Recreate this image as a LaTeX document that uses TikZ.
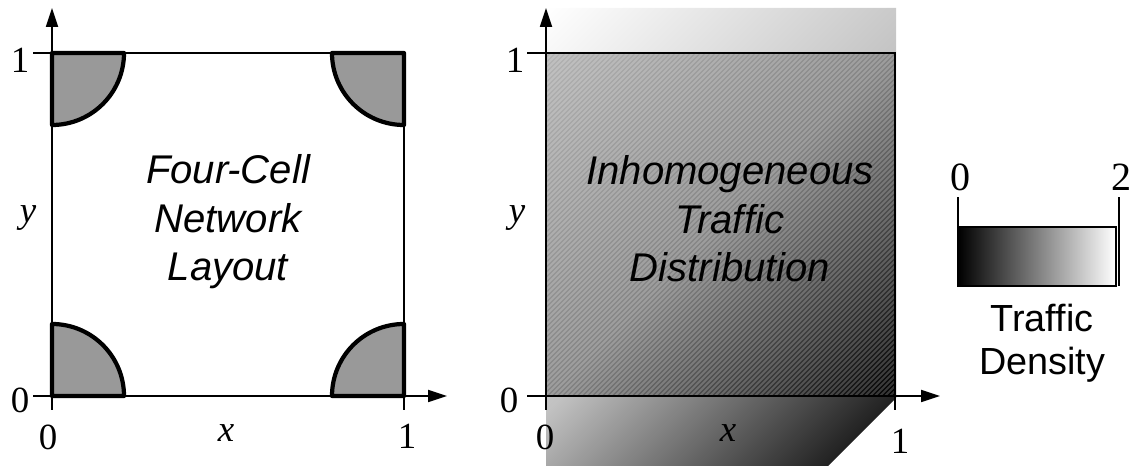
\documentclass[tikz,border=0pt]{standalone}
\usepackage{fontspec}
\setmainfont{Liberation Serif}
\setsansfont{Liberation Sans}
\usetikzlibrary{arrows.meta}
\definecolor{cellgray}{HTML}{999999}

\begin{document}
\begin{tikzpicture}[x=0.02cm, y=0.02cm,
  axis/.style={line width=1.1pt, -{Triangle[width=6.8pt,length=10.8pt]}},
  frame/.style={line width=1.1pt},
  cell/.style={fill=cellgray, draw=black, line width=2.4pt, line join=round},
  hatch/.style={white, opacity=0.2, line width=1.1pt},
  num/.style={font=\fontsize{21}{21}\selectfont},
  var/.style={font=\fontsize{21}{21}\selectfont\itshape},
  title/.style={align=center, font=\sffamily\itshape\fontsize{22.8}{27.6}\selectfont}]
\useasboundingbox (0,0) rectangle (1138,466);

% left: four-cell layout
\draw[frame] (52,70) rectangle (404,413);
\draw[frame] (33,413) -- (52,413);
\draw[frame] (404,56) -- (404,70);
\draw[cell] (52,413) -- (124,413) arc[start angle=0, end angle=-90, radius=72] -- cycle;
\draw[cell] (404,413) -- (404,341) arc[start angle=-90, end angle=-180, radius=72] -- cycle;
\draw[cell] (52,70) -- (52,142) arc[start angle=90, end angle=0, radius=72] -- cycle;
\draw[cell] (404,70) -- (332,70) arc[start angle=180, end angle=90, radius=72] -- cycle;
\draw[axis] (52,56) -- (52,458);
\draw[axis] (33,70) -- (447,70);
\node[num] (ly1) at (20,406) {1};
\node[num] (ly0) at (20,66) {0};
\node[num] (lx0) at (48,29) {0};
\node[num] (lx1) at (407,30) {1};
\node[var] (lx) at (226,33) {x};
\node[var] (ly) at (28,248) {y};
\node[title] (layout) at (228,244) {Four-Cell\\Network\\Layout};

% right: traffic distribution
\begin{scope}
  \clip (546,458) -- (896,458) -- (896,68) -- (828,0) -- (546,0) -- cycle;
  \shade[transform canvas={rotate around={-45:(721,229)}},
    left color=white, right color=black, middle color=white!76!black]
    (435,-57) rectangle (1007,515);
\end{scope}
\begin{scope}
  \clip (546,70) rectangle (895,413);
  \shade[transform canvas={rotate around={-45:(720,241)}},
    left color=white!70!black, right color=black, middle color=white!52!black]
    (475,-4) rectangle (965,486);
  \foreach \k in {200,205,...,900}
    \draw[hatch] (\k,70) -- ++(343,343);
\end{scope}
\draw[frame] (546,70) rectangle (895,413);
\draw[frame] (527,413) -- (546,413);
\draw[frame] (895,56) -- (895,70);
\draw[axis] (546,56) -- (546,458);
\draw[axis] (527,70) -- (940,70);
\node[num] (ry1) at (515,406) {1};
\node[num] (ry0) at (509,66) {0};
\node[num] (rx0) at (545,29) {0};
\node[num] (rx1) at (900,25) {1};
\node[var] (rx) at (728,33) {x};
\node[var] (ry) at (517,248) {y};
\node[title] (traffic) at (730,247) {Inhomogeneous\\Traffic\\Distribution};

% density scale
\shade[left color=black, right color=white] (958,180) rectangle (1116,239);
\draw[line width=0.8pt] (958,180) rectangle (1116,239);
\draw[line width=0.8pt] (958,180) -- (958,269);
\draw[line width=0.8pt] (1119,180) -- (1119,269);
\node[font=\fontsize{22.8}{22.8}\selectfont] (d0) at (960,289) {0};
\node[font=\fontsize{22.8}{22.8}\selectfont] (d2) at (1121,289) {2};
\node[align=center, font=\sffamily\fontsize{21.5}{24.5}\selectfont] (density) at (1042,123) {Traffic\\Density};
\end{tikzpicture}
\end{document}
